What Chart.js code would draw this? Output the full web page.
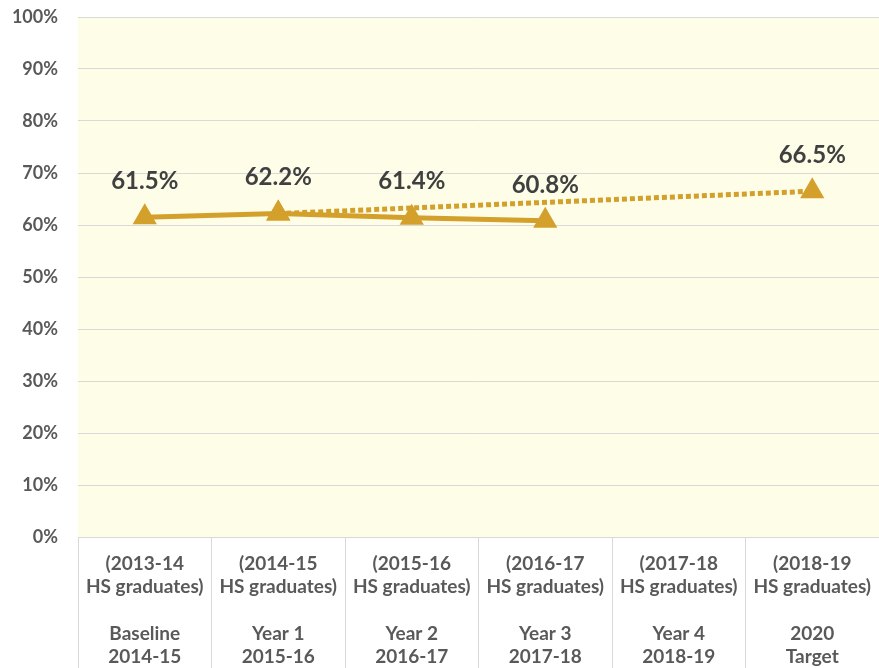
<!DOCTYPE html>
<html>
<head>
<meta charset="utf-8">
<script src="https://cdn.jsdelivr.net/npm/chart.js@4"></script>
<style>
  html, body { margin: 0; background: #ffffff; overflow: hidden; }
  #wrap { width: 879px; height: 668px; position: relative; }
  #chart { display: block; }
</style>
</head>
<body>
<div id="wrap"><canvas id="chart"></canvas></div>
<script>
const categories = [
  ['(2013-14', 'HS graduates)', '', 'Baseline', '2014-15'],
  ['(2014-15', 'HS graduates)', '', 'Year 1', '2015-16'],
  ['(2015-16', 'HS graduates)', '', 'Year 2', '2016-17'],
  ['(2016-17', 'HS graduates)', '', 'Year 3', '2017-18'],
  ['(2017-18', 'HS graduates)', '', 'Year 4', '2018-19'],
  ['(2018-19', 'HS graduates)', '', '2020', 'Target']
];
const actualValues = [61.5, 62.2, 61.4, 60.8, null, null];
const targetValues = [null, 62.2, null, null, null, 66.5];
const yTickMax = 100;
const yTickStep = 10;

const gold = '#D4A02C';

// cream fill behind the plot
const plotBackground = {
  id: 'plotBackground',
  beforeDraw(chart) {
    const { ctx, chartArea } = chart;
    ctx.save();
    ctx.fillStyle = '#FEFDE8';
    ctx.fillRect(chartArea.left, chartArea.top, chartArea.right - chartArea.left, chartArea.bottom - chartArea.top);
    ctx.restore();
  }
};

// value labels above the markers
const valueLabels = {
  id: 'valueLabels',
  afterDatasetsDraw(chart) {
    const ctx = chart.ctx;
    ctx.save();
    ctx.font = 'bold 24px Lato';
    ctx.fillStyle = '#404040';
    ctx.textAlign = 'center';
    ctx.textBaseline = 'middle';
    chart.data.datasets.forEach((ds, di) => {
      const meta = chart.getDatasetMeta(di);
      ds.data.forEach((v, i) => {
        if (v == null) return;
        if (di === 1 && actualValues[i] != null) return;
        const pt = meta.data[i];
        ctx.fillText(v.toFixed(1) + '%', pt.x, pt.y - 36);
      });
    });
    ctx.restore();
  }
};

new Chart(document.getElementById('chart'), {
  type: 'line',
  data: {
    labels: categories,
    datasets: [{
      label: 'Actual',
      data: actualValues,
      borderColor: gold,
      backgroundColor: gold,
      borderWidth: 5,
      pointStyle: 'triangle',
      pointRadius: 14,
      pointHoverRadius: 14,
      pointBorderWidth: 0,
      order: 1
    }, {
      label: 'Target',
      data: targetValues,
      borderColor: gold,
      backgroundColor: gold,
      borderWidth: 5,
      borderDash: [5, 3],
      spanGaps: true,
      pointStyle: 'triangle',
      pointRadius: 14,
      pointHoverRadius: 14,
      pointBorderWidth: 0,
      order: 2
    }]
  },
  options: {
    responsive: true,
    maintainAspectRatio: false,
    animation: false,
    layout: { autoPadding: false, padding: { top: 17, right: 0, left: 0, bottom: 0 } },
    plugins: {
      legend: { display: false },
      tooltip: { enabled: false }
    },
    scales: {
      x: {
        offset: true,
        grid: {
          offset: true,
          drawOnChartArea: false,
          drawTicks: true,
          tickLength: 131,
          color: '#D9D9D9'
        },
        border: { display: false },
        ticks: {
          padding: -116,
          maxRotation: 0,
          autoSkip: false,
          color: '#595959',
          font: { family: 'Lato', size: 19, weight: 'bold', lineHeight: 1.23 }
        },
        afterFit(scale) {
          scale.height = 131;
          scale.paddingLeft = 0;
          scale.paddingRight = 0;
        }
      },
      y: {
        min: 0,
        max: yTickMax,
        grid: { color: '#D9D9D9', drawTicks: true, tickLength: 20, tickColor: 'rgba(0,0,0,0)' },
        border: { display: false },
        ticks: {
          stepSize: yTickStep,
          padding: 0,
          color: '#595959',
          font: { family: 'Lato', size: 18, weight: 'bold' },
          callback: v => v + '%'
        },
        afterFit(scale) {
          scale.width = 78;
          scale.paddingTop = 0;
          scale.paddingBottom = 0;
        }
      }
    }
  },
  plugins: [plotBackground, valueLabels]
});
</script>
</body>
</html>
